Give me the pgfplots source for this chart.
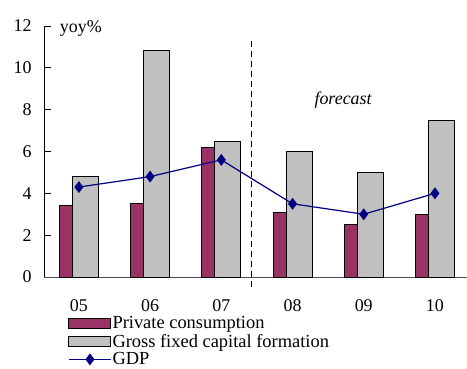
\documentclass[border=0pt]{standalone}
\usepackage{fontspec}
\setmainfont{Liberation Serif}
\usepackage{pgfplots}
\pgfplotsset{compat=1.18}
\definecolor{plum}{HTML}{993366}
\definecolor{silver}{HTML}{C0C0C0}
\definecolor{navy}{HTML}{000080}
\pgfplotsset{
    barleg/.style={legend image code/.code={\draw[##1] (0bp,-5bp) rectangle (42bp,5bp);}},
    lineleg/.style={legend image code/.code={\draw[##1] (0bp,0bp) -- (42bp,0bp); \draw[##1,solid] plot[mark=diamond*] coordinates {(21bp,0bp)};}},
}
\begin{document}
\begin{tikzpicture}
\path[use as bounding box] (-44bp,-92bp) rectangle (423bp,277bp);
\begin{axis}[
    scale only axis,
    width=423bp, height=251bp,
    xmin=-0.49, xmax=5.45,
    ymin=0, ymax=12,
    axis x line=bottom, axis y line=left,
    axis line style={-, line width=0.9bp},
    x axis line style={black!70},
    xtick={0,1,2,3,4,5},
    xticklabels={05,06,07,08,09,10},
    major x tick style={draw=none},
    extra x ticks={0.5,1.5,2.5,3.5,4.5,5.5},
    extra x tick labels={},
    extra x tick style={major tick length=7bp, tick style={black!70, line width=0.9bp}},
    ytick={0,2,...,12},
    major tick length=7bp,
    tick align=inside,
    tick style={black, line width=0.9bp},
    tick label style={font=\fontsize{18}{20}\selectfont},
    /pgf/number format/assume math mode=true,
    yticklabel style={xshift=-9bp},
    xticklabel style={yshift=-19bp},
    clip=false,
    legend style={at={(axis description cs:0.057,-0.152)}, anchor=north west,
        draw=none, fill=none, inner sep=0pt, row sep=2bp,
        font=\fontsize{18.5}{21}\selectfont,
        nodes={inner sep=1bp}},
    legend cell align=left,
]
\addplot[ybar, bar width=26bp, bar shift=-6.5bp, fill=plum, draw=black, line width=0.9bp, barleg]
    coordinates {(0,3.4) (1,3.5) (2,6.2) (3,3.1) (4,2.5) (5,3.0)};
\addlegendentry{Private consumption}
\addplot[ybar, bar width=26bp, bar shift=6.5bp, fill=silver, draw=black, line width=0.9bp, barleg]
    coordinates {(0,4.8) (1,10.85) (2,6.5) (3,6.0) (4,5.0) (5,7.5)};
\addlegendentry{Gross fixed capital formation}
\addplot[navy, line width=1.2bp, mark=diamond*, mark size=5bp, lineleg]
    coordinates {(0,4.3) (1,4.8) (2,5.6) (3,3.5) (4,3.0) (5,4.0)};
\addlegendentry{GDP}
\addplot[black, line width=1.2bp, dash pattern=on 6bp off 4bp, forget plot]
    coordinates {(2.42,-0.48) (2.42,11.3)};
\node[font=\fontsize{18}{20}\selectfont\itshape] at (axis cs:3.71,8.47) {forecast};
\node[font=\fontsize{18}{20}\selectfont, anchor=base west, inner sep=0pt] at (rel axis cs:0.037,0.975) {yoy\%};
\end{axis}
\end{tikzpicture}
\end{document}
